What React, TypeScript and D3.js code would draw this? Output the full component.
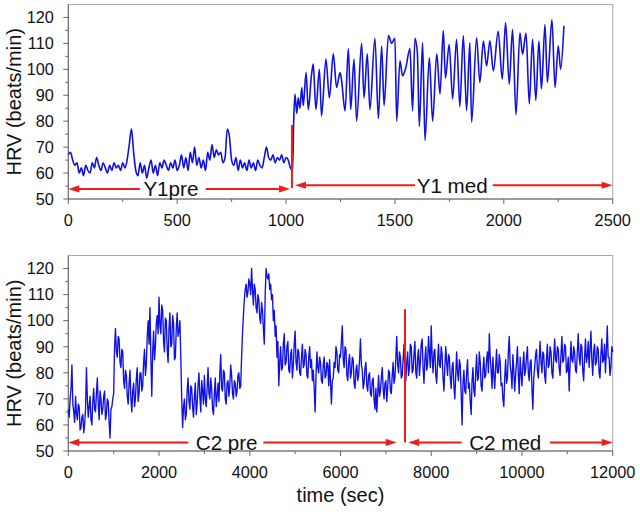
import React from 'react';
import * as d3 from 'd3';

// ---------- data ----------
const y1PreStep = 10; // seconds between samples
const y1PreValues = [
  67, 68, 65, 63, 64, 60, 62, 59, 63, 61,
  60, 64, 62, 66, 63, 61, 64, 62, 60, 63,
  61, 64, 62, 63, 61, 64, 62, 65, 71, 77,
  68, 61, 59, 64, 60, 63, 58, 62, 65, 60,
  63, 59, 64, 62, 65, 63, 61, 64, 62, 65,
  61, 63, 67, 62, 66, 61, 68, 64, 70, 63,
  66, 62, 65, 61, 68, 65, 71, 66, 69, 67,
  68, 64, 66, 77, 74, 65, 63, 66, 61, 65,
  62, 64, 61, 65, 62, 64, 61, 65, 63, 62,
  66, 70, 66, 65, 67, 64, 66, 65, 67, 64,
  66, 65, 62, 61,
];
const y1MedTimes = [
  1035, 1041, 1049, 1056, 1064, 1072, 1079, 1092, 1102, 1117,
  1125, 1137, 1153, 1163, 1183, 1199, 1217, 1232, 1248, 1255,
  1271, 1286, 1297, 1312, 1324, 1347, 1358, 1373, 1385, 1408,
  1424, 1439, 1450, 1470, 1485, 1500, 1508, 1523, 1535, 1550,
  1569, 1581, 1592, 1603, 1612, 1627, 1638, 1658, 1673, 1692,
  1707, 1722, 1732, 1749, 1765, 1783, 1798, 1814, 1829, 1844,
  1852, 1875, 1890, 1906, 1921, 1936, 1952, 1974, 1993, 2008,
  2025, 2040, 2056, 2074, 2086, 2102, 2117, 2132, 2147, 2161,
  2173, 2189, 2200, 2221, 2235, 2250, 2261, 2276,
];
const y1MedValues = [
  80, 90.5, 83, 89, 85, 93, 86, 98.8, 84.5, 98,
  102, 84.5, 100, 82, 104, 89, 106, 93, 98.8, 95.6,
  84, 108, 84.5, 104, 80, 110, 89, 106, 84.5, 112,
  81, 109, 86, 113, 110, 112, 80, 103.3, 97.5, 100.7,
  108, 84, 112, 106.4, 78, 110.3, 72.6, 104.5, 80, 106,
  90.5, 115, 96.6, 109.6, 88.6, 111.6, 85.6, 113, 84.1, 110.3,
  79.6, 112.2, 94.9, 110.9, 101.3, 111, 99.4, 114.7, 96.2, 118,
  94.3, 115.4, 82.5, 114.1, 105.8, 114, 86.7, 111.6, 88, 110.9,
  92.4, 117.3, 94.9, 119.2, 93, 109, 100, 116.8,
];

const c2Step = 20; // seconds between samples
const c2Values = [
  66, 63, 70, 74, 83, 68, 65, 61, 71, 64, 62, 68, 67, 58, 59, 63, 64, 57, 60, 66,
  82, 70, 63, 67, 71, 62, 60, 69, 74, 66, 65, 72, 78, 68, 62, 73, 70, 64, 66, 71,
  73, 62, 64, 70, 69, 61, 55, 66, 67, 70, 72, 90, 97, 88, 86, 94, 93, 84, 82, 89,
  88, 77, 74, 81, 79, 71, 68, 76, 81, 70, 65, 73, 76, 67, 70, 78, 82, 69, 72, 80,
  80, 73, 75, 84, 89, 79, 83, 94, 100, 91, 105, 86, 71, 88, 96, 85, 90, 99, 102, 95,
  109, 98, 95, 106, 104, 92, 88, 101, 100, 89, 84, 97, 103, 90, 91, 102, 99, 85, 86, 97,
  103, 94, 96, 100, 86, 70, 59, 67, 70, 62, 64, 73, 78, 69, 66, 75, 74, 67, 63, 71,
  76, 64, 68, 75, 80, 71, 65, 77, 73, 68, 79, 70, 67, 74, 82, 72, 70, 78, 74, 66,
  64, 72, 78, 67, 71, 76, 69, 80, 87, 74, 73, 81, 80, 70, 68, 76, 77, 71, 75, 83,
  79, 72, 70, 77, 76, 71, 73, 79, 80, 74, 75, 86, 95, 102, 108, 112, 114, 109, 111, 116,
  114, 110, 120, 112, 106, 114, 112, 105, 103, 110, 108, 101, 99, 107, 104, 97, 91, 110, 120, 117,
  116, 118, 112, 114, 108, 110, 100, 104, 94, 98, 86, 92, 75, 84, 90, 81, 82, 91, 95, 83,
  84, 90, 92, 81, 80, 87, 89, 78, 83, 91, 96, 84, 81, 89, 88, 80, 79, 86, 91, 82,
  83, 89, 87, 79, 78, 86, 90, 82, 85, 77, 81, 74, 65, 79, 88, 82, 80, 86, 84, 77,
  76, 83, 86, 78, 79, 84, 83, 75, 85, 76, 68, 77, 78, 84, 82, 90, 88, 81, 80, 87,
  86, 92, 98, 85, 82, 90, 89, 79, 77, 84, 87, 78, 80, 86, 85, 76, 74, 81, 83, 77,
  79, 85, 93, 83, 81, 74, 76, 82, 84, 75, 73, 79, 80, 72, 71, 77, 78, 70, 66, 74,
  65, 72, 79, 71, 73, 78, 82, 74, 70, 76, 77, 69, 74, 81, 80, 73, 72, 79, 84, 76,
  78, 86, 94, 83, 80, 88, 86, 78, 79, 85, 91, 81, 77, 84, 88, 79, 82, 91, 90, 80,
  81, 87, 92, 80, 78, 86, 89, 79, 84, 91, 93, 82, 76, 85, 90, 81, 83, 94, 88, 82,
  98, 86, 80, 88, 89, 79, 76, 84, 91, 83, 82, 90, 87, 78, 73, 82, 90, 84, 79, 87,
  86, 78, 74, 82, 84, 75, 70, 79, 88, 80, 77, 85, 83, 72, 60, 76, 81, 73, 72, 80,
  85, 74, 76, 69, 64, 77, 82, 73, 71, 80, 87, 77, 78, 88, 84, 75, 73, 81, 86, 78,
  79, 85, 88, 80, 95, 86, 81, 74, 86, 79, 74, 82, 89, 80, 80, 87, 84, 75, 76, 70,
  67, 78, 85, 76, 78, 88, 94, 83, 80, 74, 87, 81, 73, 79, 84, 90, 79, 72, 86, 80,
  75, 83, 88, 79, 81, 86, 90, 80, 77, 84, 85, 74, 66, 78, 82, 87, 89, 81, 78, 85,
  92, 84, 80, 88, 87, 79, 76, 85, 91, 82, 83, 90, 88, 80, 78, 86, 93, 85, 84, 90,
  89, 82, 79, 87, 94, 84, 85, 91, 90, 80, 81, 86, 73, 83, 92, 85, 84, 90, 88, 81,
  80, 88, 95, 86, 83, 91, 90, 81, 77, 86, 93, 84, 86, 92, 82, 89, 96, 85, 79, 88,
  91, 83, 84, 90, 89, 80, 78, 87, 93, 84, 85, 91, 80, 88, 98, 86, 86, 79, 82, 90, 88,
];

const yTicks = [50, 60, 70, 80, 90, 100, 110, 120];
const yMinorTicks = [55, 65, 75, 85, 95, 105, 115];
const topXTicks = [0, 500, 1000, 1500, 2000, 2500];
const topXMinorTicks = [250, 750, 1250, 1750, 2250];
const botXTicks = [0, 2000, 4000, 6000, 8000, 10000, 12000];
const botXMinorTicks = [1000, 3000, 5000, 7000, 9000, 11000];

// phase annotations: label, arrow level, segments [start,end] (seconds), label centre
const topPhases = [
  { label: 'Y1pre', level: 53.9, segs: [[0, 329], [631, 1018]], center: 471 },
  { label: 'Y1 med', level: 55.3, segs: [[1041, 1592], [1949, 2500]], center: 1763 },
];
const topMarker = { t: 1027, from: 54.2, to: 78.5 };
const botPhases = [
  { label: 'C2 pre', level: 53.3, segs: [[0, 2645], [4298, 7238]], center: 3491 },
  { label: 'C2 med', level: 53.3, segs: [[7494, 8671], [10618, 12000]], center: 9632 },
];
const botMarker = { t: 7422, from: 53.3, to: 104.4 };

// ---------- drawing ----------
const W = 640;
const H = 518;
const LEFT = 68.3;
const RIGHT = 612.7;
const FONT = '"Liberation Sans", Arial, Helvetica, sans-serif';
const BLUE = '#1010e0';
const RED = '#ee1c1c';

type Pt = { t: number; v: number };
type Phase = { label: string; level: number; segs: number[][]; center: number };

function Panel(props: {
  data: Pt[];
  xMax: number;
  xTicks: number[];
  xMinor: number[];
  yTop: number;
  yBot: number;
  phases: Phase[];
  marker: { t: number; from: number; to: number };
  lineWidth: number;
  curve: boolean;
}) {
  const { data, xMax, xTicks, xMinor, yTop, yBot, phases, marker, lineWidth, curve } = props;
  const x = d3.scaleLinear().domain([0, xMax]).range([LEFT, RIGHT]);
  const y = d3.scaleLinear().domain([50, 125]).range([yBot, yTop]);
  const line = d3
    .line<Pt>()
    .x((d) => x(d.t))
    .y((d) => y(d.v))
    .curve(curve ? d3.curveMonotoneX : d3.curveLinear);
  const headLen = 11;
  const headHalf = 3.6;
  return (
    <g>
      {/* frame */}
      <rect x={LEFT} y={yTop} width={RIGHT - LEFT} height={yBot - yTop} fill="none" stroke="#a8a8a8" strokeWidth={1} />
      <line x1={LEFT} x2={LEFT} y1={yTop} y2={yBot} stroke="#666" strokeWidth={1} />
      <line x1={LEFT} x2={RIGHT} y1={yBot} y2={yBot} stroke="#666" strokeWidth={1} />
      {/* y ticks */}
      {yTicks.map((v) => (
        <g key={'y' + v}>
          <line x1={LEFT - 5} x2={LEFT} y1={y(v)} y2={y(v)} stroke="#666" />
          <text x={LEFT - 14.5} y={y(v) + 5.8} textAnchor="end" fontSize={16.3} fontFamily={FONT} fill="#111">
            {v}
          </text>
        </g>
      ))}
      {yMinorTicks.map((v) => (
        <line key={'ym' + v} x1={LEFT - 3} x2={LEFT} y1={y(v)} y2={y(v)} stroke="#666" />
      ))}
      {/* x ticks */}
      {xTicks.map((t) => (
        <g key={'x' + t}>
          <line x1={x(t)} x2={x(t)} y1={yBot} y2={yBot + 5} stroke="#666" />
          <text x={x(t)} y={yBot + 27.3} textAnchor="middle" fontSize={16.3} fontFamily={FONT} fill="#111">
            {t}
          </text>
        </g>
      ))}
      {xMinor.map((t) => (
        <line key={'xm' + t} x1={x(t)} x2={x(t)} y1={yBot} y2={yBot + 3} stroke="#666" />
      ))}
      {/* y axis title */}
      <text
        transform={`translate(20.5, ${(yTop + yBot) / 2}) rotate(-90)`}
        textAnchor="middle"
        fontSize={20}
        fontFamily={FONT}
        fill="#111"
      >
        HRV (beats/min)
      </text>
      {/* data */}
      <path d={line(data) || ''} fill="none" stroke={BLUE} strokeWidth={lineWidth} strokeLinejoin="round" />
      {/* marker */}
      <line x1={x(marker.t)} x2={x(marker.t)} y1={y(marker.from)} y2={y(marker.to)} stroke={RED} strokeWidth={2} />
      {/* phase arrows */}
      {phases.map((p) => {
        const yy = y(p.level);
        const [s0, s1] = p.segs;
        const a0 = x(s0[0]);
        const a1 = x(s0[1]);
        const b0 = x(s1[0]);
        const b1 = x(s1[1]);
        return (
          <g key={p.label}>
            <line x1={a0 + headLen - 1} x2={a1} y1={yy} y2={yy} stroke={RED} strokeWidth={2} />
            <polygon
              points={`${a0},${yy} ${a0 + headLen},${yy - headHalf} ${a0 + headLen},${yy + headHalf}`}
              fill={RED}
            />
            <line x1={b0} x2={b1 - headLen + 1} y1={yy} y2={yy} stroke={RED} strokeWidth={2} />
            <polygon
              points={`${b1},${yy} ${b1 - headLen},${yy - headHalf} ${b1 - headLen},${yy + headHalf}`}
              fill={RED}
            />
            <text x={x(p.center)} y={yy + 7.4} textAnchor="middle" fontSize={20.6} fontFamily={FONT} fill="#111">
              {p.label}
            </text>
          </g>
        );
      })}
    </g>
  );
}

export default function App() {
  const topData: Pt[] = [
    ...y1PreValues.map((v, i) => ({ t: i * y1PreStep, v })),
    ...y1MedTimes.map((t, i) => ({ t, v: y1MedValues[i] })),
  ];
  const botData: Pt[] = c2Values.map((v, i) => ({ t: i * c2Step, v }));
  return (
    <svg
      width={W}
      height={H}
      viewBox={`0 0 ${W} ${H}`}
      style={{ position: 'absolute', left: 0, top: 0, background: '#fff' }}
    >
      <rect x={0} y={0} width={W} height={H} fill="#fff" />
      <Panel
        data={topData}
        xMax={2500}
        xTicks={topXTicks}
        xMinor={topXMinorTicks}
        yTop={4.5}
        yBot={199}
        phases={topPhases}
        marker={topMarker}
        lineWidth={1.6}
        curve={true}
      />
      <Panel
        data={botData}
        xMax={12000}
        xTicks={botXTicks}
        xMinor={botXMinorTicks}
        yTop={255.5}
        yBot={451}
        phases={botPhases}
        marker={botMarker}
        lineWidth={1.35}
        curve={false}
      />
      <text x={(LEFT + RIGHT) / 2} y={502} textAnchor="middle" fontSize={20} fontFamily={FONT} fill="#111">
        time (sec)
      </text>
    </svg>
  );
}
